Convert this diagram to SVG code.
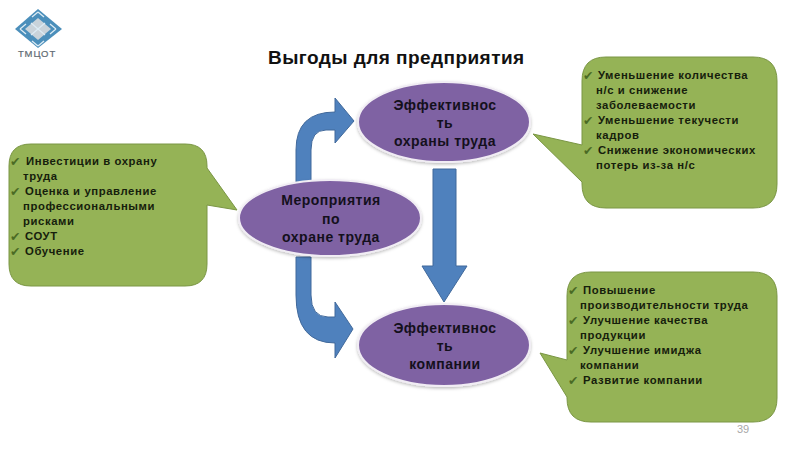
<svg xmlns="http://www.w3.org/2000/svg" width="800" height="450" viewBox="0 0 800 450">
<defs>
<style>
.title{font:bold 19px "Liberation Sans",Arial,sans-serif;fill:#111;letter-spacing:.45px}
.el{fill:#7f62a3;stroke:#f1edf4;stroke-width:2;filter:url(#sh)}
.et{font:bold 14px "Liberation Sans",Arial,sans-serif;fill:#14101c;text-anchor:middle;letter-spacing:.5px}
.co{fill:#95b356;stroke:#7a9644;stroke-width:1}
.ct{font:bold 11.3px "Liberation Sans",Arial,sans-serif;fill:#16200c;letter-spacing:.6px}
.ck{font:12.5px "DejaVu Sans",sans-serif;fill:#4a6a24}
.ar{fill:#4f81bd;stroke:#41699b;stroke-width:1}
</style>
<filter id="sh" x="-10%" y="-10%" width="120%" height="125%"><feDropShadow dx="0" dy="1.5" stdDeviation="1.5" flood-color="#000" flood-opacity=".25"/></filter>
</defs>
<rect width="800" height="450" fill="#fff"/>
<g id="logo">
<polygon points="38,9 62,29 38,48 15,29" fill="#4b8fbb"/>
<polygon points="38,18 51,29 38,40 25,29" fill="#c9d3da"/>
<path d="M20 29l6-5M20 29l6 5M56 29l-6-5M56 29l-6 5M38 12l-6 5M38 12l6 5M38 46l-6-5M38 46l6-5M31 23L45 35M45 23L31 35" stroke="#dcebf4" stroke-width="1.3" fill="none"/>
<text x="37" y="57" text-anchor="middle" style="font:9.5px 'Liberation Sans',Arial,sans-serif;fill:#5f6b73;letter-spacing:.9px;stroke:#5f6b73;stroke-width:.2">ТМЦОТ</text>
</g>
<text id="title" class="title" x="268" y="64">Выгоды для предприятия</text>
<g id="connectors">
<path class="ar" d="M296 182V150Q296 112 335 112V98L354 121L335 143V130H326Q311 130 311 150V182Z"/>
<path class="ar" d="M296 257V295Q296 343 335 343V358L353 329L335 302V317H328Q311 317 311 295V257Z"/>
<path class="ar" d="M433 169H456V266H467L444 302L422 266H433Z"/>
</g>
<g id="node-left">
<path class="co" d="M31 144H185Q207 144 207 166V168L237 210L207 205V264Q207 286 185 286H31Q9 286 9 264V166Q9 144 31 144Z"/>
<text class="ct"><tspan x="26" y="165">Инвестиции в охрану</tspan><tspan x="23" y="180">труда</tspan><tspan x="25" y="195">Оценка и управление</tspan><tspan x="23" y="210">профессиональными</tspan><tspan x="23" y="225">рисками</tspan><tspan x="25" y="240">СОУТ</tspan><tspan x="25" y="255">Обучение</tspan></text>
<text class="ck" x="10" y="166">✔</text><text class="ck" x="10" y="196">✔</text><text class="ck" x="10" y="241">✔</text><text class="ck" x="10" y="256">✔</text>
</g>
<g id="node-top-right">
<path class="co" d="M606 57H753Q777 57 777 81V184Q777 208 753 208H606Q582 208 582 184V182L533 134L582 145V81Q582 57 606 57Z"/>
<text class="ct"><tspan x="598" y="79">Уменьшение количества</tspan><tspan x="596" y="94">н/с и снижение</tspan><tspan x="596" y="109">заболеваемости</tspan><tspan x="598" y="124">Уменьшение текучести</tspan><tspan x="596" y="139">кадров</tspan><tspan x="598" y="154">Снижение экономических</tspan><tspan x="596" y="169">потерь из-за н/с</tspan></text>
<text class="ck" x="583" y="80">✔</text><text class="ck" x="583" y="125">✔</text><text class="ck" x="583" y="155">✔</text>
</g>
<g id="node-bottom-right">
<path class="co" d="M591 272H753Q777 272 777 296V398Q777 422 753 422H591Q567 422 567 398V397L540 353L567 360V296Q567 272 591 272Z"/>
<text class="ct"><tspan x="583" y="294">Повышение</tspan><tspan x="580" y="309">производительности труда</tspan><tspan x="583" y="324">Улучшение качества</tspan><tspan x="580" y="339">продукции</tspan><tspan x="583" y="354">Улучшение имиджа</tspan><tspan x="580" y="369">компании</tspan><tspan x="583" y="384">Развитие компании</tspan></text>
<text class="ck" x="568" y="295">✔</text><text class="ck" x="568" y="325">✔</text><text class="ck" x="568" y="355">✔</text><text class="ck" x="568" y="385">✔</text>
</g>
<g id="node-measures">
<ellipse class="el" cx="330" cy="218" rx="91" ry="38"/>
<text class="et"><tspan x="331" y="205">Мероприятия</tspan><tspan x="331" y="224">по</tspan><tspan x="331" y="242">охране труда</tspan></text>
</g>
<g id="node-safety">
<ellipse class="el" cx="444" cy="122" rx="86" ry="40"/>
<text class="et"><tspan x="445" y="110">Эффективнос</tspan><tspan x="445" y="128">ть</tspan><tspan x="445" y="146">охраны труда</tspan></text>
</g>
<g id="node-company">
<ellipse class="el" cx="444" cy="345" rx="86" ry="41"/>
<text class="et"><tspan x="445" y="333">Эффективнос</tspan><tspan x="445" y="351">ть</tspan><tspan x="445" y="369">компании</tspan></text>
</g>
<text id="page" x="737" y="433" style="font:11px 'Liberation Sans',Arial,sans-serif;fill:#a8a8a8">39</text>
</svg>
